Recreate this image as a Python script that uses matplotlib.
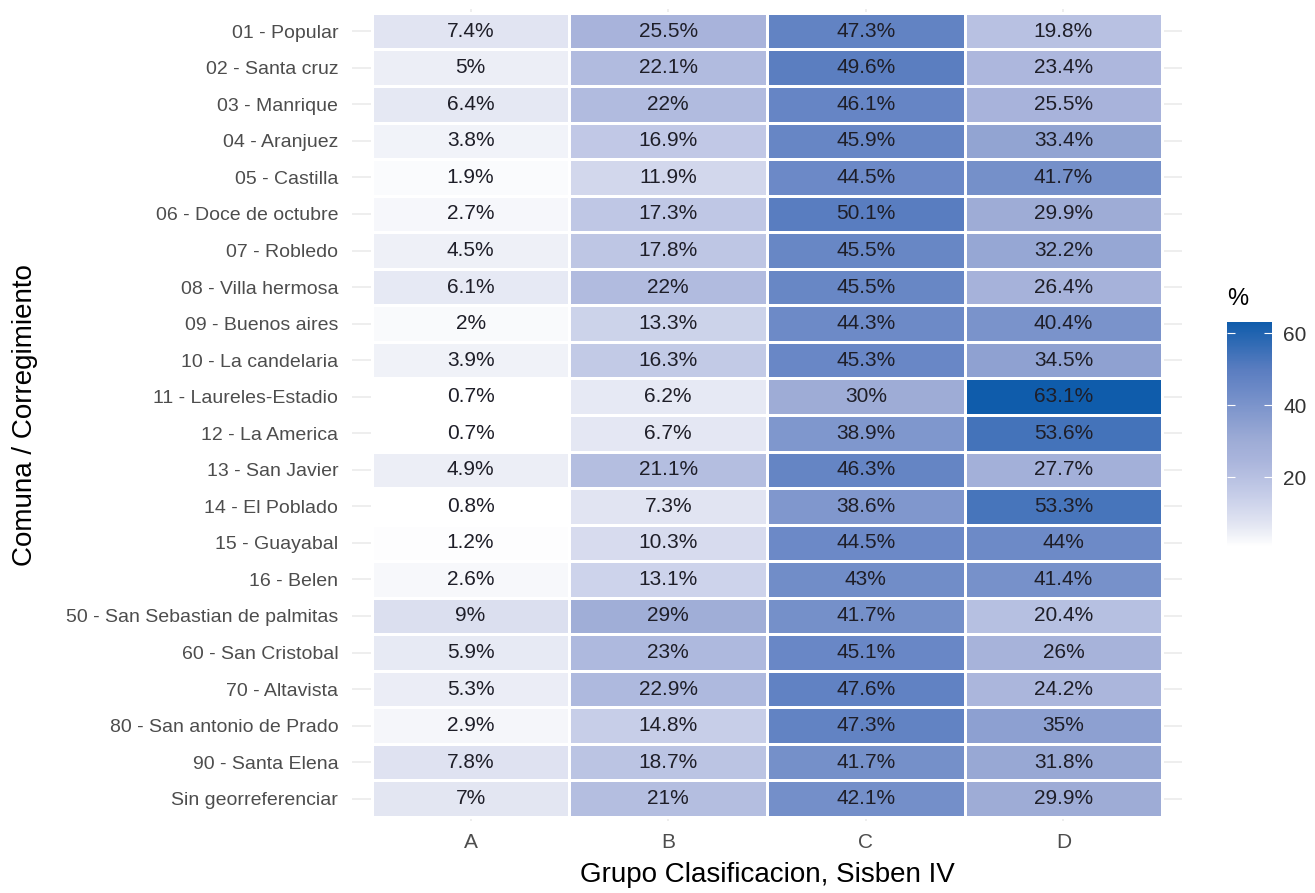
import numpy as np
import matplotlib
matplotlib.use("Agg")
import matplotlib.pyplot as plt
from matplotlib.colors import LinearSegmentedColormap, Normalize

plt.rcParams['font.family'] = ['Liberation Sans', 'DejaVu Sans']

comunas = ["01 - Popular", "02 - Santa cruz", "03 - Manrique", "04 - Aranjuez",
           "05 - Castilla", "06 - Doce de octubre", "07 - Robledo",
           "08 - Villa hermosa", "09 - Buenos aires", "10 - La candelaria",
           "11 - Laureles-Estadio", "12 - La America", "13 - San Javier",
           "14 - El Poblado", "15 - Guayabal", "16 - Belen",
           "50 - San Sebastian de palmitas", "60 - San Cristobal",
           "70 - Altavista", "80 - San antonio de Prado", "90 - Santa Elena",
           "Sin georreferenciar"]
grupos = ["A", "B", "C", "D"]

grupo_a = [7.4, 5, 6.4, 3.8, 1.9, 2.7, 4.5, 6.1, 2, 3.9, 0.7, 0.7, 4.9, 0.8,
           1.2, 2.6, 9, 5.9, 5.3, 2.9, 7.8, 7]
grupo_b = [25.5, 22.1, 22, 16.9, 11.9, 17.3, 17.8, 22, 13.3, 16.3, 6.2, 6.7,
           21.1, 7.3, 10.3, 13.1, 29, 23, 22.9, 14.8, 18.7, 21]
grupo_c = [47.3, 49.6, 46.1, 45.9, 44.5, 50.1, 45.5, 45.5, 44.3, 45.3, 30,
           38.9, 46.3, 38.6, 44.5, 43, 41.7, 45.1, 47.6, 47.3, 41.7, 42.1]
grupo_d = [19.8, 23.4, 25.5, 33.4, 41.7, 29.9, 32.2, 26.4, 40.4, 34.5, 63.1,
           53.6, 27.7, 53.3, 44, 41.4, 20.4, 26, 24.2, 35, 31.8, 29.9]

vals = np.column_stack([grupo_a, grupo_b, grupo_c, grupo_d])

# gradient white -> blue, roughly like the ggplot Lab interpolation
cmap = LinearSegmentedColormap.from_list("sisben", [
    (0.0, "#ffffff"),
    (0.10, "#e2e5f2"),
    (0.23, "#c6cde8"),
    (0.38, "#aab5dc"),
    (0.47, "#9eacd6"),
    (0.71, "#6a88c6"),
    (0.79, "#5a7dc0"),
    (1.0, "#0f5cab"),
])
norm = Normalize(vmin=vals.min(), vmax=vals.max())

fig = plt.figure(figsize=(13.15, 8.93), dpi=100)
ax = fig.add_axes([0.2677, 0.0810, 0.6312, 0.9086])

nrow, ncol = vals.shape
xe = np.arange(ncol + 1) - 0.5
ye = np.arange(nrow + 1) - 0.5
mesh = ax.pcolormesh(xe, ye, vals, cmap=cmap, norm=norm,
                     edgecolors="white", linewidth=0.8)

for i in range(nrow):
    for j in range(ncol):
        ax.text(j, i, f"{vals[i, j]:g}%", ha="center", va="center",
                fontsize=15, color="#1e1e28")

ax.set_xlim(-0.6, ncol - 0.4)
ax.set_ylim(nrow - 0.4, -0.6)
ax.set_xticks(range(ncol))
ax.set_xticklabels(grupos)
ax.set_yticks(range(nrow))
ax.set_yticklabels(comunas)
ax.tick_params(length=0, colors="#4d4d4d")
ax.tick_params(axis="y", labelsize=14, pad=10)
ax.tick_params(axis="x", labelsize=15, pad=9)
ax.grid(True, color="#ebebeb", linewidth=1.2)
ax.set_axisbelow(True)
for s in ax.spines.values():
    s.set_visible(False)

ax.set_xlabel("Grupo Clasificacion, Sisben IV", fontsize=20, labelpad=7)
ax.set_ylabel("Comuna / Corregimiento", fontsize=20, labelpad=20)

cax = fig.add_axes([0.9331, 0.3875, 0.0342, 0.252])
cb = fig.colorbar(mesh, cax=cax, ticks=[20, 40, 60])
cb.outline.set_visible(False)
cax.yaxis.set_ticks_position("both")
cax.tick_params(direction="in", color="white", length=6, width=0.8,
                labelsize=15, labelcolor="#333333", right=True, left=True,
                labelleft=False, labelright=True, pad=8)
cax.set_title("%", fontsize=17, loc="left", pad=12)

fig.savefig("out.png", dpi=100)
